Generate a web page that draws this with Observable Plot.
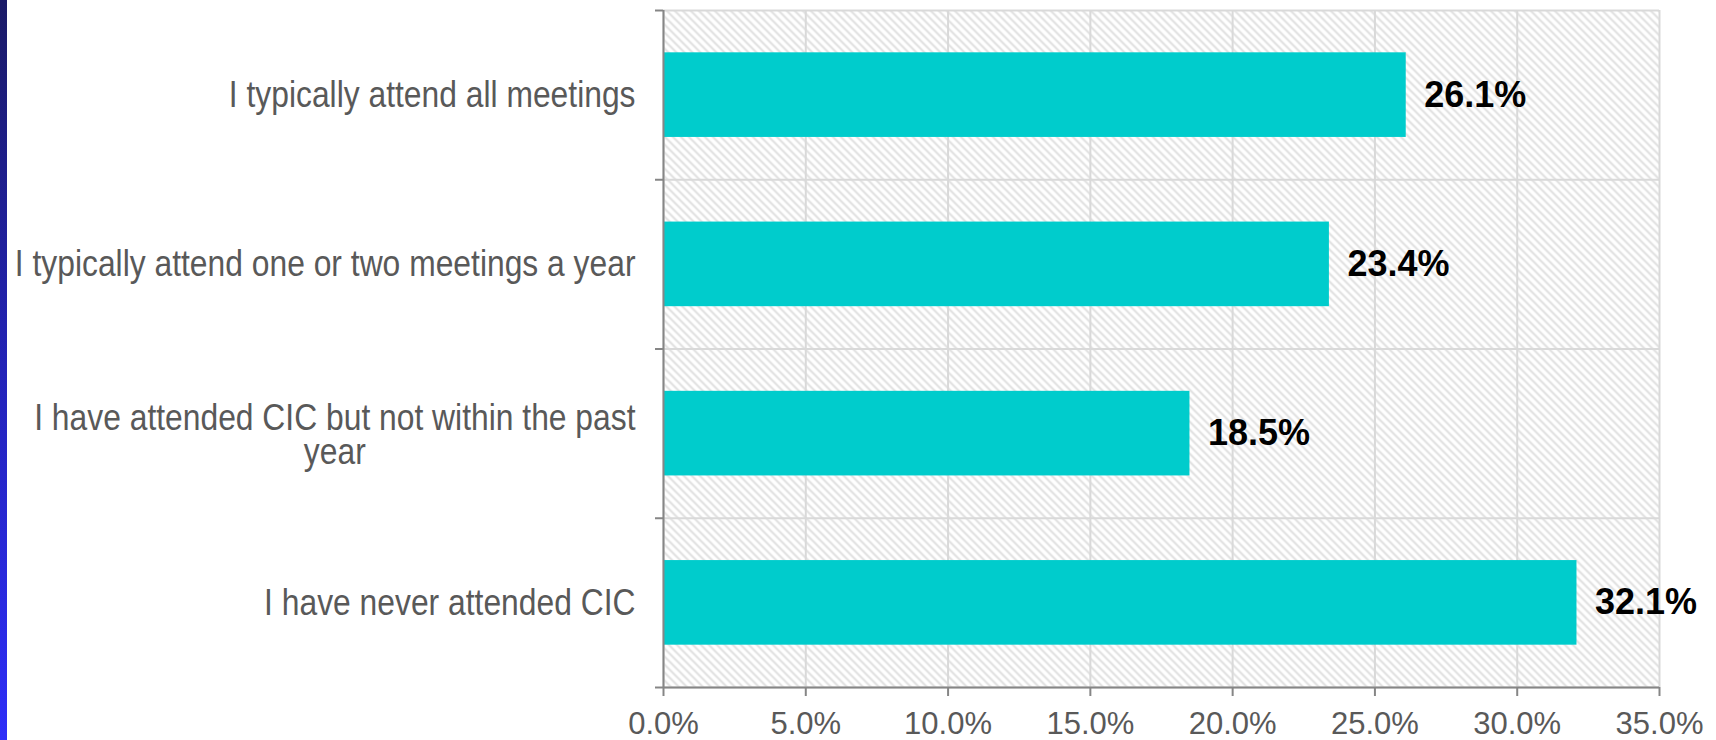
<!DOCTYPE html>
<html>
<head>
<meta charset="utf-8">
<script src="https://cdn.jsdelivr.net/npm/d3@7"></script>
<script src="https://cdn.jsdelivr.net/npm/@observablehq/plot@0.6"></script>
<style>
  html, body { margin: 0; padding: 0; background: #ffffff; }
  #wrap { position: relative; width: 1716px; height: 740px; overflow: hidden; background: #ffffff; }
  #stripe { position: absolute; left: 0; top: 0; width: 7px; height: 740px;
    background: linear-gradient(#1a1a66, #2323b8 50%, #2e2ef8); z-index: 2; }
  #chart { position: absolute; left: 0; top: 0; }
</style>
</head>
<body>
<div id="wrap"><div id="stripe"></div><div id="chart"></div></div>
<script>
// ---- data ----
const categories = [
  "I typically attend all meetings",
  "I typically attend one or two meetings a year",
  "I have attended CIC but not within the past year",
  "I have never attended CIC"
];
const labelLines = [
  ["I typically attend all meetings"],
  ["I typically attend one or two meetings a year"],
  ["I have attended CIC but not within the past", "year"],
  ["I have never attended CIC"]
];
const values = [26.1, 23.4, 18.5, 32.1];
const xTicks = [0, 5, 10, 15, 20, 25, 30, 35];

// ---- styling ----
const barColor = "#00CCCC";
const gridColor = "#d9d9d9";
const axisColor = "#868686";
const labelColor = "#595959";
const fontFamily = "'Liberation Sans', Arial, Helvetica, sans-serif";
const catFont = 37, squeeze = 0.86;

const rows = categories.map((c, i) => ({category: c, value: values[i], pos: i, lines: labelLines[i]}));
const yBounds = d3.range(categories.length + 1);
const fmt = d => d.toFixed(1) + "%";

const single = rows.filter(r => r.lines.length === 1);
const multi = rows.filter(r => r.lines.length > 1);

const ctx = document.createElement("canvas").getContext("2d");
ctx.font = `${catFont}px 'Liberation Sans', Arial, sans-serif`;
const labelGap = 28;

const marks = [
  Plot.frame({fill: "url(#hatch)", stroke: null}),
  Plot.gridX({ticks: xTicks, stroke: gridColor, strokeOpacity: 1, strokeWidth: 2}),
  Plot.gridY({ticks: yBounds, stroke: gridColor, strokeOpacity: 1, strokeWidth: 2}),
  Plot.rect(rows, {x1: 0, x2: "value", y1: d => d.pos + 0.25, y2: d => d.pos + 0.75, fill: barColor}),
  Plot.ruleX([0], {stroke: axisColor, strokeWidth: 2}),
  Plot.ruleY([categories.length], {stroke: axisColor, strokeWidth: 2}),
  Plot.axisX({anchor: "bottom", ticks: xTicks, tickSize: 9, tickPadding: 15, tickFormat: fmt, label: null,
    stroke: axisColor, strokeWidth: 2, fill: labelColor, fontSize: 31}),
  Plot.axisY({anchor: "left", ticks: yBounds, tickSize: 8, tickFormat: () => "", label: null,
    stroke: axisColor, strokeWidth: 2}),
  Plot.text(single, {x: 0, y: d => d.pos + 0.5, text: d => d.lines[0], textAnchor: "end", dx: -labelGap,
    fill: labelColor, fontSize: catFont}),
  Plot.text(rows, {x: "value", y: d => d.pos + 0.5, text: d => fmt(d.value), textAnchor: "start", dx: 18,
    fill: "#000000", fontSize: 36, fontWeight: "bold"})
];
for (const r of multi) {
  const w = ctx.measureText(r.lines[0]).width * squeeze;
  marks.push(Plot.text([r], {x: 0, y: d => d.pos + 0.5, text: d => d.lines[0], textAnchor: "end",
    dx: -labelGap, dy: -15, fill: labelColor, fontSize: catFont}));
  marks.push(Plot.text([r], {x: 0, y: d => d.pos + 0.5, text: d => d.lines.slice(1).join(" "), textAnchor: "middle",
    dx: -labelGap - w / 2, dy: 19, fill: labelColor, fontSize: catFont}));
}

const svg = Plot.plot({
  width: 1716,
  height: 740,
  marginLeft: 663,
  marginRight: 57,
  marginTop: 10,
  marginBottom: 53,
  x: {domain: [0, 35]},
  y: {domain: [0, categories.length], reverse: true},
  style: {fontFamily, background: "transparent", overflow: "visible"},
  marks
});

d3.select(svg).insert("defs", ":first-child").html(
  `<pattern id="hatch" patternUnits="userSpaceOnUse" width="8" height="8">
     <rect width="8" height="8" fill="#ffffff"/>
     <path d="M-2,-2L10,10M-2,6L2,10M6,-2L10,2" stroke="#e0e0e0" stroke-width="2"/>
   </pattern>`
);
const lineSet = new Set(labelLines.flat());
d3.select(svg).selectAll("text").each(function() {
  if (!lineSet.has(this.textContent)) return;
  const t = this.getAttribute("transform") || "";
  this.setAttribute("transform", t + ` scale(${squeeze},1)`);
});

document.getElementById("chart").appendChild(svg);
</script>
</body>
</html>
